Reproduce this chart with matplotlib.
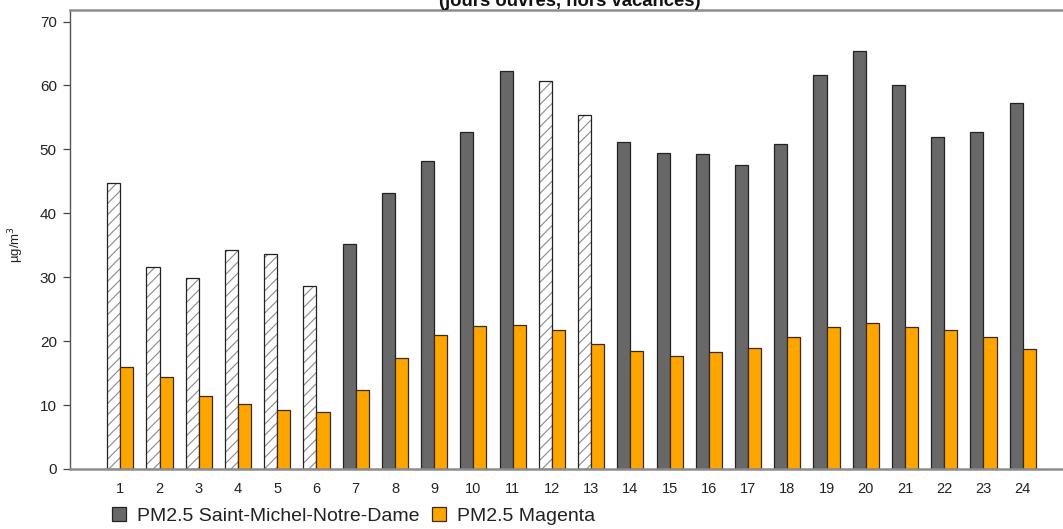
import matplotlib
matplotlib.use("Agg")
import matplotlib.pyplot as plt
from matplotlib.patches import Patch
import numpy as np

plt.rcParams['font.family'] = ['Liberation Sans', 'DejaVu Sans']
plt.rcParams['hatch.linewidth'] = 0.8

heures = [str(h) for h in range(1, 25)]
smnd = [44.8, 31.6, 29.9, 34.2, 33.6, 28.6, 35.2, 43.1, 48.2, 52.7, 62.2, 60.7,
        55.4, 51.1, 49.4, 49.2, 47.5, 50.9, 61.7, 65.4, 60.0, 51.9, 52.7, 57.3]
magenta = [16.0, 14.4, 11.4, 10.2, 9.2, 8.9, 12.4, 17.4, 20.9, 22.4, 22.5, 21.8,
           19.6, 18.4, 17.6, 18.3, 18.9, 20.6, 22.2, 22.8, 22.2, 21.8, 20.7, 18.8]
# heures a donnees incompletes (barres hachurees)
incomplet = [1, 2, 3, 4, 5, 6, 12, 13]

W, H = 1063, 529
fig = plt.figure(figsize=(W / 100, H / 100), dpi=100)
ax = fig.add_axes([70 / W, 60 / H, (1080 - 70) / W, 459 / H])

x = np.arange(1, 25)
w = 1 / 3
for i, v in zip(x, smnd):
    if i in incomplet:
        ax.bar(i - w / 2, v, w, color='white', edgecolor='#8a8a8a',
               hatch='///', linewidth=0)
        ax.bar(i - w / 2, v, w, fill=False, edgecolor='#222222', linewidth=0.9)
    else:
        ax.bar(i - w / 2, v, w, color='#686868', edgecolor='#222222', linewidth=0.9)
ax.bar(x + w / 2, magenta, w, color='#FFA500', edgecolor='#3a2a1a', linewidth=0.9)

ax.set_xlim(-0.282, 25.46)
ax.set_ylim(0, 71.8)
ax.set_xticks(x)
ax.set_xticklabels(heures)
ax.set_yticks(range(0, 71, 10))
ax.tick_params(axis='x', length=0, pad=9.5, labelsize=10.5, labelcolor='#222222')
ax.tick_params(axis='y', length=5, width=0.9, pad=4.5, labelsize=11,
               color='#444444', labelcolor='#222222')

ax.spines['left'].set_color('#555555')
ax.spines['left'].set_linewidth(1.0)
ax.spines['bottom'].set_color('#8c8c8c')
ax.spines['bottom'].set_linewidth(1.8)
ax.spines['top'].set_color('#8c8c8c')
ax.spines['top'].set_linewidth(1.8)
ax.spines['right'].set_visible(False)

fig.text(16 / W, 1 - 245 / H, r'µg/m$^3$', rotation=90, ha='center', va='center',
         fontsize=9.5, color='#222222')
fig.text(570 / W, 1 - 5.5 / H, '(jours ouvrés, hors vacances)', ha='center',
         va='baseline', fontsize=13.3, fontweight='bold', color='#111111')

handles = [Patch(facecolor='#686868', edgecolor='#222222', linewidth=0.9),
           Patch(facecolor='#FFA500', edgecolor='#3a2a1a', linewidth=0.9)]
fig.legend(handles, ['PM2.5 Saint-Michel-Notre-Dame', 'PM2.5 Magenta'],
           loc='center left', bbox_to_anchor=(112 / W, 1 - 516 / H), ncol=2,
           frameon=False, fontsize=14, handlelength=0.72, handleheight=0.7,
           handletextpad=0.55, columnspacing=0.65, borderpad=0, borderaxespad=0,
           labelcolor='#222222')

fig.savefig('out.png', dpi=100)
